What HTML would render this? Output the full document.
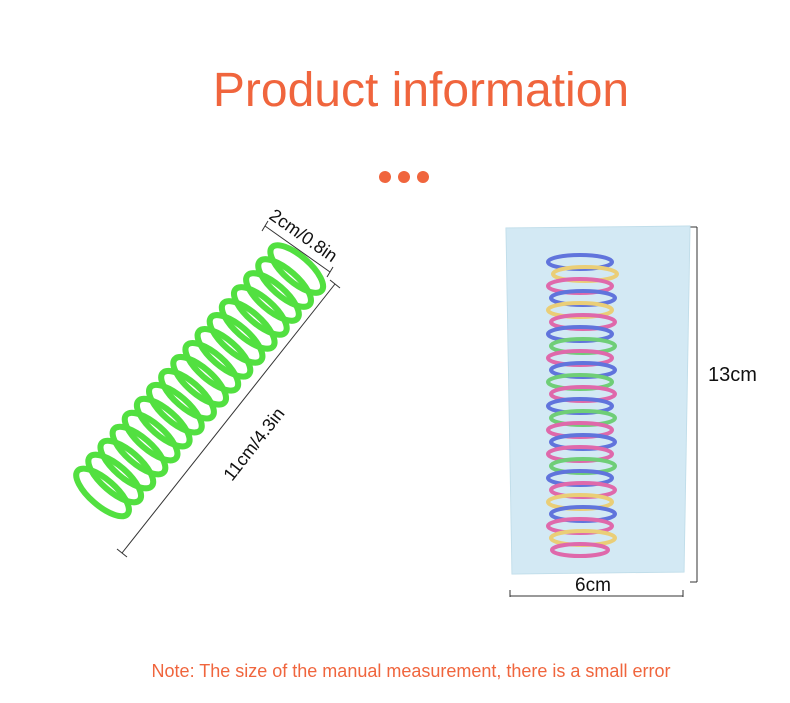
<!DOCTYPE html>
<html><head><meta charset="utf-8"><style>
html,body{margin:0;padding:0;background:#fff;}
body{width:790px;height:703px;position:relative;overflow:hidden;font-family:"Liberation Sans",sans-serif;}
.t{position:absolute;left:0;width:790px;text-align:center;color:#f0653d;}
</style></head><body>
<div class="t" style="top:63px;font-size:48px;left:26px;">Product information</div>
<div class="t" style="top:661px;font-size:18px;left:16px;">Note: The size of the manual measurement, there is a small error</div>
<svg width="790" height="703" style="position:absolute;left:0;top:0">
<circle cx="385" cy="177" r="6" fill="#f0653d"/><circle cx="404" cy="177" r="6" fill="#f0653d"/><circle cx="423" cy="177" r="6" fill="#f0653d"/>
<g transform="translate(96,500) rotate(-49)" fill="none" stroke="#52e040" stroke-width="6">
<ellipse cx="10" cy="0" rx="13" ry="33"/><ellipse cx="28.5" cy="0" rx="13" ry="33"/><ellipse cx="47" cy="0" rx="13" ry="33"/><ellipse cx="65.5" cy="0" rx="13" ry="33"/><ellipse cx="84" cy="0" rx="13" ry="33"/><ellipse cx="102.5" cy="0" rx="13" ry="33"/><ellipse cx="121" cy="0" rx="13" ry="33"/><ellipse cx="139.5" cy="0" rx="13" ry="33"/><ellipse cx="158" cy="0" rx="13" ry="33"/><ellipse cx="176.5" cy="0" rx="13" ry="33"/><ellipse cx="195" cy="0" rx="13" ry="33"/><ellipse cx="213.5" cy="0" rx="13" ry="33"/><ellipse cx="232" cy="0" rx="13" ry="33"/><ellipse cx="250.5" cy="0" rx="13" ry="33"/><ellipse cx="269" cy="0" rx="13" ry="33"/><ellipse cx="287.5" cy="0" rx="13" ry="33"/><ellipse cx="306" cy="0" rx="13" ry="33"/>
</g>
<g stroke="#333" stroke-width="1" fill="none">
<line x1="122" y1="553" x2="335" y2="284"/><line x1="117" y1="549" x2="127" y2="557"/><line x1="330" y1="280" x2="340" y2="288"/>
<line x1="265" y1="226" x2="330" y2="272"/><line x1="268" y1="221" x2="262" y2="231"/><line x1="333" y1="267" x2="327" y2="277"/>
<line x1="697" y1="227" x2="697" y2="582"/><line x1="690" y1="227" x2="697" y2="227"/><line x1="690" y1="582" x2="697" y2="582"/>
<line x1="510" y1="596" x2="683" y2="596"/><line x1="510" y1="590" x2="510" y2="597"/><line x1="683" y1="590" x2="683" y2="597"/>
</g>
<text x="0" y="0" transform="translate(268,218) rotate(35)" font-size="18" fill="#111" font-family="Liberation Sans">2cm/0.8in</text>
<text x="0" y="0" transform="translate(232,482) rotate(-52)" font-size="18" fill="#111" font-family="Liberation Sans">11cm/4.3in</text>
<text x="708" y="381" font-size="20" fill="#111" font-family="Liberation Sans">13cm</text>
<path d="M506 228 L690 226 L684 572 L512 574 Z" fill="#cfe7f2" stroke="#bcdbe8"/>
<text x="575" y="591" font-size="19" fill="#111" font-family="Liberation Sans">6cm</text>
<g fill="none" stroke-width="4">
<ellipse cx="580" cy="262" rx="32" ry="7" stroke="#2a3fd0"/><ellipse cx="585" cy="274" rx="32" ry="7" stroke="#f0c040"/><ellipse cx="580" cy="286" rx="32" ry="7" stroke="#e0308a"/><ellipse cx="583" cy="298" rx="32" ry="7" stroke="#2a3fd0"/><ellipse cx="580" cy="310" rx="32" ry="7" stroke="#f0c040"/><ellipse cx="583" cy="322" rx="32" ry="7" stroke="#e0308a"/><ellipse cx="580" cy="334" rx="32" ry="7" stroke="#2a3fd0"/><ellipse cx="583" cy="346" rx="32" ry="7" stroke="#40c040"/><ellipse cx="580" cy="358" rx="32" ry="7" stroke="#e0308a"/><ellipse cx="583" cy="370" rx="32" ry="7" stroke="#2a3fd0"/><ellipse cx="580" cy="382" rx="32" ry="7" stroke="#40c040"/><ellipse cx="583" cy="394" rx="32" ry="7" stroke="#e0308a"/><ellipse cx="580" cy="406" rx="32" ry="7" stroke="#2a3fd0"/><ellipse cx="583" cy="418" rx="32" ry="7" stroke="#40c040"/><ellipse cx="580" cy="430" rx="32" ry="7" stroke="#e0308a"/><ellipse cx="583" cy="442" rx="32" ry="7" stroke="#2a3fd0"/><ellipse cx="580" cy="454" rx="32" ry="7" stroke="#e0308a"/><ellipse cx="583" cy="466" rx="32" ry="7" stroke="#40c040"/><ellipse cx="580" cy="478" rx="32" ry="7" stroke="#2a3fd0"/><ellipse cx="583" cy="490" rx="32" ry="7" stroke="#e0308a"/><ellipse cx="580" cy="502" rx="32" ry="7" stroke="#f0c040"/><ellipse cx="583" cy="514" rx="32" ry="7" stroke="#2a3fd0"/><ellipse cx="580" cy="526" rx="32" ry="7" stroke="#e0308a"/><ellipse cx="583" cy="538" rx="32" ry="7" stroke="#f0c040"/><ellipse cx="580" cy="550" rx="28" ry="6" stroke="#e0308a"/>
</g>
<path d="M506 228 L690 226 L684 572 L512 574 Z" fill="#dff0f8" fill-opacity="0.3"/>
</svg>
</body></html>
